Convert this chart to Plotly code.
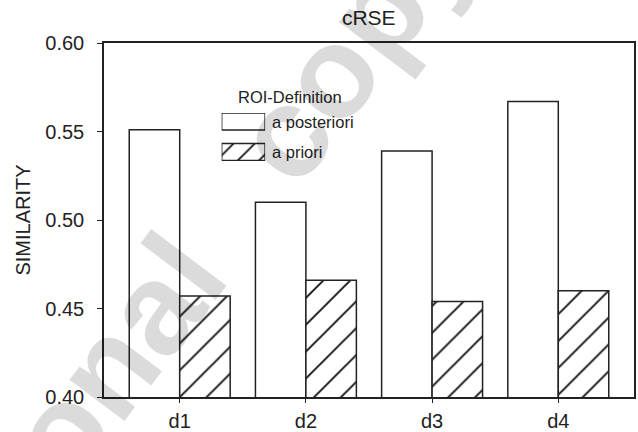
import plotly.graph_objects as go

categories = ["d1", "d2", "d3", "d4"]
a_posteriori = [0.551, 0.510, 0.539, 0.567]
a_priori = [0.457, 0.466, 0.454, 0.460]
series_names = ["a posteriori", "a priori"]
legend_title = "ROI-Definition"
y_ticks = [0.40, 0.45, 0.50, 0.55, 0.60]

INK = "#222222"
FONT = "Liberation Sans, Arial, sans-serif"

fig = go.Figure()

fig.add_trace(go.Bar(
    x=categories, y=a_posteriori, name=series_names[0],
    marker=dict(color="rgba(255,255,255,0)", line=dict(color=INK, width=1.5)),
    showlegend=False, hoverinfo="x+y",
))
fig.add_trace(go.Bar(
    x=categories, y=a_priori, name=series_names[1],
    marker=dict(color="white", line=dict(color=INK, width=1.5),
                pattern=dict(shape="/", fgcolor="#111111", bgcolor="white",
                             size=19, solidity=0.1, fillmode="replace")),
    showlegend=False, hoverinfo="x+y",
))

# custom legend swatches drawn in a small inset subplot
fig.add_trace(go.Bar(
    x=[1, 1], y=[1, 0], base=0, orientation="h", width=0.557,
    xaxis="x2", yaxis="y2", showlegend=False, hoverinfo="skip",
    marker=dict(color="white", line=dict(color=INK, width=1.5),
                pattern=dict(shape=["", "/"], fgcolor="#111111", bgcolor="white",
                             size=15, solidity=0.12, fillmode="replace")),
))

fig.update_layout(
    width=638, height=432,
    margin=dict(l=104, r=4, t=43, b=35),
    paper_bgcolor="white", plot_bgcolor="white",
    barmode="group", bargap=0.2, bargroupgap=0,
    font=dict(family=FONT, color=INK, size=20),
    title=dict(text="cRSE", x=0.578, xanchor="center", y=0.958, yanchor="middle",
               font=dict(size=21, color=INK, family=FONT)),
    xaxis=dict(type="category", range=[-0.6, 3.6], showline=True, mirror=True,
               linecolor=INK, linewidth=1.5, ticks="outside", ticklen=4,
               tickcolor=INK, tickwidth=1.2, showgrid=False, zeroline=False,
               tickfont=dict(size=20), ticklabelstandoff=1, automargin=False),
    yaxis=dict(range=[0.40, 0.60], tickvals=y_ticks, tickformat=".2f",
               showline=True, mirror=True, linecolor=INK, linewidth=1.5,
               ticks="outside", ticklen=5, tickcolor=INK, tickwidth=1.2,
               showgrid=False, zeroline=False, tickfont=dict(size=20),
               ticklabelstandoff=9, automargin=False,
               title=dict(text="SIMILARITY", font=dict(size=20), standoff=9)),
    xaxis2=dict(domain=[0.222, 0.304], range=[0, 1], visible=False,
                anchor="y2", fixedrange=True),
    yaxis2=dict(domain=[(397 - 161) / 354, (397 - 113) / 354],
                range=[-0.295, 1.279], visible=False,
                anchor="x2", fixedrange=True),
)

legend_font = dict(size=16.5, color=INK, family=FONT)
fig.add_annotation(text=legend_title, xref="paper", yref="paper",
                   x=(236 - 104) / 530, y=(397 - 97) / 354, xanchor="left",
                   yanchor="middle", showarrow=False, font=legend_font)
fig.add_annotation(text=series_names[0], xref="paper", yref="paper",
                   x=(270 - 104) / 530, y=(397 - 121.5) / 354, xanchor="left",
                   yanchor="middle", showarrow=False, font=legend_font)
fig.add_annotation(text=series_names[1], xref="paper", yref="paper",
                   x=(270 - 104) / 530, y=(397 - 152) / 354, xanchor="left",
                   yanchor="middle", showarrow=False, font=legend_font)

# faint watermark text
fig.add_annotation(text="<b>personal&nbsp;&nbsp;&nbsp;copy</b>", xref="paper", yref="paper",
                   x=(157 - 104) / 530, y=(397 - 303) / 354,
                   xanchor="center", yanchor="middle", textangle=-53,
                   showarrow=False,
                   font=dict(size=130, color="rgba(0,0,0,0.14)", family=FONT))

fig.write_html("out.html", post_script="document.body.style.margin='0';",
               config={"displayModeBar": False})
